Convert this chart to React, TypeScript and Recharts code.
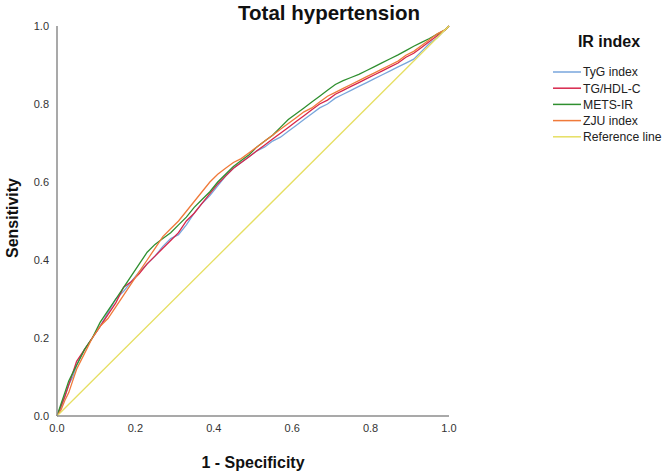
import React from "react";
import { LineChart, Line, XAxis, YAxis } from "recharts";

const xs = [0, 0.01, 0.02, 0.03, 0.04, 0.05, 0.07, 0.09, 0.11, 0.13, 0.15, 0.17, 0.19, 0.21, 0.23, 0.25, 0.27, 0.29, 0.31, 0.33, 0.35, 0.37, 0.39, 0.41, 0.43, 0.45, 0.47, 0.49, 0.51, 0.53, 0.55, 0.57, 0.59, 0.61, 0.63, 0.65, 0.67, 0.69, 0.71, 0.73, 0.75, 0.77, 0.79, 0.81, 0.83, 0.85, 0.87, 0.89, 0.91, 0.93, 0.95, 0.97, 0.99, 1];

const tygValues = [0, 0.02, 0.05, 0.08, 0.1, 0.13, 0.17, 0.2, 0.23, 0.265, 0.3, 0.32, 0.345, 0.37, 0.39, 0.41, 0.435, 0.455, 0.465, 0.49, 0.52, 0.545, 0.565, 0.59, 0.615, 0.635, 0.65, 0.665, 0.68, 0.69, 0.705, 0.715, 0.73, 0.745, 0.76, 0.775, 0.79, 0.8, 0.815, 0.825, 0.835, 0.845, 0.855, 0.865, 0.875, 0.885, 0.895, 0.905, 0.915, 0.935, 0.955, 0.97, 0.99, 1];
const tgHdlValues = [0, 0.025, 0.05, 0.08, 0.11, 0.14, 0.17, 0.2, 0.23, 0.26, 0.29, 0.33, 0.345, 0.365, 0.39, 0.41, 0.43, 0.45, 0.47, 0.5, 0.52, 0.545, 0.57, 0.595, 0.615, 0.635, 0.65, 0.665, 0.68, 0.695, 0.71, 0.725, 0.74, 0.755, 0.77, 0.785, 0.8, 0.81, 0.825, 0.835, 0.845, 0.855, 0.865, 0.875, 0.885, 0.895, 0.905, 0.92, 0.93, 0.945, 0.96, 0.975, 0.99, 1];
const metsValues = [0, 0.03, 0.06, 0.09, 0.11, 0.13, 0.17, 0.2, 0.24, 0.27, 0.3, 0.33, 0.36, 0.39, 0.42, 0.44, 0.455, 0.47, 0.49, 0.51, 0.535, 0.555, 0.575, 0.6, 0.62, 0.64, 0.655, 0.67, 0.69, 0.705, 0.72, 0.74, 0.76, 0.775, 0.79, 0.805, 0.82, 0.835, 0.85, 0.86, 0.868, 0.876, 0.886, 0.896, 0.906, 0.916, 0.926, 0.937, 0.948, 0.958, 0.968, 0.979, 0.99, 1];
const zjuValues = [0, 0.015, 0.04, 0.06, 0.09, 0.12, 0.16, 0.2, 0.23, 0.25, 0.28, 0.31, 0.34, 0.37, 0.4, 0.43, 0.46, 0.48, 0.5, 0.525, 0.55, 0.575, 0.6, 0.62, 0.635, 0.65, 0.66, 0.675, 0.69, 0.705, 0.72, 0.735, 0.75, 0.765, 0.78, 0.79, 0.805, 0.82, 0.83, 0.84, 0.85, 0.86, 0.87, 0.88, 0.89, 0.9, 0.91, 0.925, 0.935, 0.95, 0.965, 0.98, 0.99, 1];
const refXs = [0, 1];
const refValues = [0, 1];

const ticks = [0, 0.2, 0.4, 0.6, 0.8, 1.0];

const seriesNames = ["TyG index", "TG/HDL-C", "METS-IR", "ZJU index", "Reference line"];
const seriesColors = ["#79a6dc", "#d7264b", "#2f8f2f", "#f07a3a", "#e6df62"];

const toRows = (x: number[], y: number[]) => x.map((v, i) => ({ x: v, y: y[i] }));

const seriesData = [
  toRows(xs, tygValues),
  toRows(xs, tgHdlValues),
  toRows(xs, metsValues),
  toRows(xs, zjuValues),
  toRows(refXs, refValues),
];

const FONT = "'Liberation Sans', Arial, sans-serif";

export default function App() {
  return (
    <div style={{ position: "absolute", left: 0, top: 0, width: 669, height: 473, background: "#fff" }}>
      <LineChart width={669} height={473} margin={{ top: 26, right: 220, bottom: 37, left: 17 }}>
        <XAxis
          type="number"
          dataKey="x"
          domain={[0, 1]}
          ticks={ticks}
          tickFormatter={(v: number) => v.toFixed(1)}
          tickLine={false}
          axisLine={{ stroke: "#8c8c8c", strokeWidth: 1.5 }}
          tick={{ fontSize: 11, fill: "#333", fontFamily: FONT }}
          height={20}
          allowDuplicatedCategory={false}
        />
        <YAxis
          type="number"
          dataKey="y"
          domain={[0, 1]}
          ticks={ticks}
          tickFormatter={(v: number) => v.toFixed(1)}
          tickLine={false}
          axisLine={{ stroke: "#8c8c8c", strokeWidth: 1.5 }}
          tick={{ fontSize: 11, fill: "#333", fontFamily: FONT }}
          width={40}
        />
        {seriesData.map((d, i) => (
          <Line
            key={seriesNames[i]}
            data={d}
            dataKey="y"
            name={seriesNames[i]}
            stroke={seriesColors[i]}
            strokeWidth={1.3}
            dot={false}
            type="linear"
            isAnimationActive={false}
          />
        ))}
      </LineChart>
      <svg width={669} height={473} style={{ position: "absolute", left: 0, top: 0, pointerEvents: "none" }}>
        <text x={329} y={20} textAnchor="middle" fontFamily={FONT} fontWeight="bold" fontSize={20.5} fill="#111">
          Total hypertension
        </text>
        <text x={253} y={468} textAnchor="middle" fontFamily={FONT} fontWeight="bold" fontSize={16} fill="#111">
          1 - Specificity
        </text>
        <text
          x={0}
          y={0}
          transform="translate(18,218) rotate(-90)"
          textAnchor="middle"
          fontFamily={FONT}
          fontWeight="bold"
          fontSize={16}
          fill="#111"
        >
          Sensitivity
        </text>
        <text x={609} y={47} textAnchor="middle" fontFamily={FONT} fontWeight="bold" fontSize={16} fill="#111">
          IR index
        </text>
        {seriesNames.map((n, i) => (
          <g key={n}>
            <line x1={553} x2={581} y1={72 + i * 16.2} y2={72 + i * 16.2} stroke={seriesColors[i]} strokeWidth={1.5} />
            <text x={583} y={76.3 + i * 16.2} fontFamily={FONT} fontSize={12.2} fill="#222">
              {n}
            </text>
          </g>
        ))}
      </svg>
    </div>
  );
}
